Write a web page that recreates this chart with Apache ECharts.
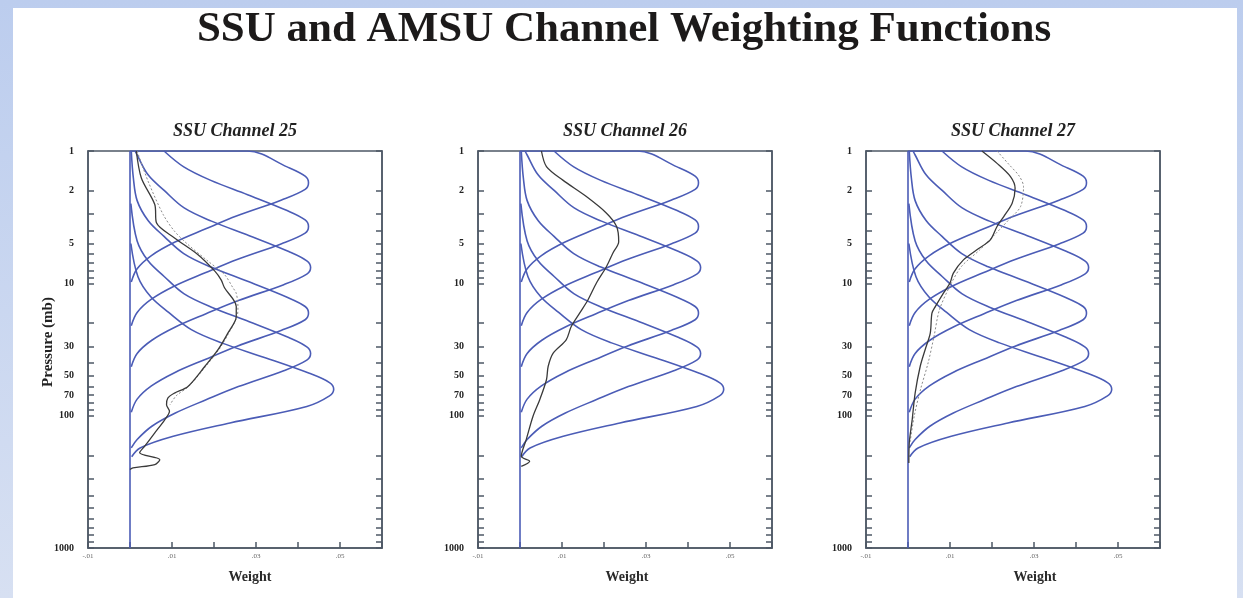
<!DOCTYPE html>
<html>
<head>
<meta charset="utf-8">
<script src="https://cdn.jsdelivr.net/npm/echarts@6/dist/echarts.min.js"></script>
<style>
  html, body { margin: 0; padding: 0; background: #ffffff; }
  #chart { width: 1243px; height: 598px; }
</style>
</head>
<body>
<div id="chart"></div>
<script>
// ---- text ----
const MAIN_TITLE = 'SSU and AMSU Channel Weighting Functions';
const PANEL_TITLES = ['SSU Channel 25', 'SSU Channel 26', 'SSU Channel 27'];
const Y_NAME = 'Pressure (mb)';
const X_NAME = 'Weight';

// ---- axes ----
const PRESSURE_TICKS = [1, 2, 3, 4, 5, 6, 7, 8, 9, 10, 20, 30, 40, 50, 60, 70, 80, 90,
  100, 200, 300, 400, 500, 600, 700, 800, 900, 1000];
const PRESSURE_LABELS = [1, 2, 5, 10, 30, 50, 70, 100, 1000];
const WEIGHT_LABELS = [-0.01, 0.01, 0.03, 0.05];

// ---- layer weighting functions, [weight, pressure (mb)] ----
const WF_1 = [[0, 1], [0.028, 1], [0.0374, 1.318], [0.0417, 1.549], [0.0425, 1.738], [0.0417, 1.95],
  [0.0361, 2.344], [0.0255, 3.09], [0.0179, 3.89], [0.0106, 4.9], [0.0051, 6.17],
  [0.0017, 7.76], [0.0003, 9.77]];
const WF_2 = [[0.0081, 1], [0.0128, 1.318], [0.0191, 1.66], [0.028, 2.138], [0.0374, 2.818],
  [0.0417, 3.311], [0.0425, 3.715], [0.0417, 4.169], [0.0361, 5.012], [0.0255, 6.607],
  [0.0179, 8.318], [0.0106, 10.47], [0.0051, 13.18], [0.0017, 16.6], [0.0003, 20.9]];
const WF_3 = [[0.0012, 1], [0.0017, 1.072], [0.0043, 1.514], [0.0082, 1.995], [0.0129, 2.692],
  [0.0194, 3.388], [0.0284, 4.365], [0.0378, 5.754], [0.0421, 6.761], [0.043, 7.586],
  [0.0421, 8.511], [0.0366, 10.23], [0.0258, 13.49], [0.0181, 16.98], [0.0108, 21.38],
  [0.0052, 26.92], [0.0017, 33.88], [0.0003, 42.66]];
const WF_4 = [[0.0003, 1], [0.0008, 1.6], [0.0017, 2.371], [0.0043, 3.35], [0.0081, 4.416],
  [0.0128, 5.957], [0.0191, 7.499], [0.028, 9.661], [0.0374, 12.74], [0.0417, 14.96],
  [0.0425, 16.79], [0.0417, 18.84], [0.0361, 22.65], [0.0255, 29.85], [0.0179, 37.58],
  [0.0106, 47.32], [0.0051, 59.57], [0.0017, 74.99], [0.0003, 94.41]];
const WF_5 = [[0.0002, 2.5], [0.0017, 4.786], [0.0043, 6.761], [0.0082, 8.913], [0.0129, 12.02],
  [0.0194, 15.14], [0.0284, 19.5], [0.0378, 25.7], [0.0421, 30.2], [0.043, 33.88],
  [0.0421, 38.02], [0.0366, 45.71], [0.0258, 60.26], [0.0181, 75.86], [0.0108, 95.5],
  [0.0052, 120.2], [0.0017, 151.4], [0.0003, 175]];
const WF_6 = [[0.0002, 5], [0.0019, 8.913], [0.0049, 12.59], [0.0092, 16.6], [0.0146, 22.39],
  [0.0218, 28.18], [0.032, 36.31], [0.0427, 47.86], [0.0475, 56.23], [0.0485, 63.1],
  [0.0475, 70.79], [0.0421, 85.11], [0.0238, 113.5], [0.0103, 143.2], [0.0024, 175.4],
  [0.0004, 204.2]];
const ZERO_LINE = [[0, 1], [0, 1000]];

// ---- channel weighting functions, [weight, pressure (mb)] ----
const CH25_SOLID = [[0.0015, 1], [0.0027, 1.6], [0.0059, 2.54], [0.0063, 3.49], [0.0106, 4.54],
  [0.0162, 6.07], [0.0202, 8.09], [0.0217, 9.42], [0.0225, 10.8], [0.0253, 14.96],
  [0.0253, 17.8], [0.0233, 23.8], [0.021, 31.6], [0.0178, 42.5], [0.0138, 60.1],
  [0.0106, 67.5], [0.009, 73.6], [0.0087, 82.6], [0.0094, 92.7], [0.0083, 107],
  [0.0059, 135], [0.0035, 170], [0.0023, 190.5], [0.0071, 215], [0.0059, 234],
  [0.0007, 248], [0, 255]];
const CH25_DOTTED = [[0.0017, 1], [0.0043, 1.69], [0.0079, 3.02], [0.0106, 4.04], [0.0138, 5.09],
  [0.0186, 6.81], [0.0225, 8.59], [0.0245, 10.8], [0.0253, 11.9], [0.0257, 15.0],
  [0.0255, 17.8], [0.0235, 23.8], [0.0212, 31.6], [0.018, 42.5], [0.014, 60],
  [0.011, 70.8], [0.0095, 83]];
const CH26_SOLID = [[0.0051, 1], [0.0063, 1.31], [0.0102, 1.66], [0.0158, 2.21], [0.0206, 2.95],
  [0.023, 3.72], [0.0235, 4.84], [0.0221, 5.92], [0.0206, 7.46], [0.0182, 9.95],
  [0.0162, 13.3], [0.0142, 16.8], [0.0122, 21.2], [0.011, 26.7], [0.0079, 33.7],
  [0.0067, 42.5], [0.0063, 53.5], [0.0047, 75.7], [0.0031, 101], [0.0015, 151],
  [0.0003, 203], [0.0023, 221], [0.0003, 242]];
const CH27_SOLID = [[0.0176, 1], [0.0212, 1.24], [0.0244, 1.56], [0.0255, 1.91], [0.0248, 2.48],
  [0.0228, 3.13], [0.0212, 3.72], [0.0196, 4.70], [0.0164, 5.58], [0.0132, 6.65],
  [0.0108, 8.37], [0.01, 9.95], [0.0084, 11.9], [0.0065, 15.0], [0.0057, 16.8],
  [0.0053, 23.8], [0.0041, 31.6], [0.0029, 42.5], [0.0017, 67.5], [0.001, 107],
  [0.0003, 161], [0.0002, 228]];
const CH27_DOTTED = [[0.0212, 1], [0.024, 1.26], [0.0265, 1.55], [0.0275, 1.86], [0.0268, 2.63],
  [0.024, 3.31], [0.021, 4.17], [0.017, 5.62], [0.0128, 7.41], [0.0103, 10],
  [0.0075, 15.8], [0.0062, 25.1], [0.0048, 39.8], [0.003, 63], [0.0015, 100],
  [0.0005, 158]];

const LAYERS = [WF_1, WF_2, WF_3, WF_4, WF_5, WF_6];
const CHANNELS = [
  { solid: CH25_SOLID, dotted: CH25_DOTTED },
  { solid: CH26_SOLID, dotted: null },
  { solid: CH27_SOLID, dotted: CH27_DOTTED }
];

// ---- styling ----
const SERIF = '"Liberation Serif", "Times New Roman", serif';
const FRAME = '#4e5866';
const BLUE = '#4b5cb6';
const PANEL_LEFT = [88, 478, 866];
const PANEL_TOP = 151;
const PANEL_W = 294;
const PANEL_H = 397;
const WEIGHT_TITLE_X = [250, 627, 1035];

const grids = [], xAxes = [], yAxes = [], series = [], graphics = [];

graphics.push({
  type: 'rect', shape: { x: 13, y: 8, width: 1224, height: 590 },
  style: { fill: '#ffffff' }, silent: true, z: -10
});
graphics.push({
  type: 'text', x: 624, y: 30, silent: true,
  style: { text: MAIN_TITLE, textAlign: 'center', textVerticalAlign: 'middle',
    font: 'bold 43px ' + SERIF, fill: '#1c1a1a' }
});
graphics.push({
  type: 'text', x: 48, y: 342, rotation: Math.PI / 2, silent: true,
  style: { text: Y_NAME, textAlign: 'center', textVerticalAlign: 'middle',
    font: 'bold 15px ' + SERIF, fill: '#222' }
});

PANEL_LEFT.forEach((left, i) => {
  grids.push({ left: left, top: PANEL_TOP, width: PANEL_W, height: PANEL_H,
    show: true, borderColor: FRAME, borderWidth: 1.5, backgroundColor: 'transparent' });

  xAxes.push({
    gridIndex: i, type: 'value', min: -0.01, max: 0.06, interval: 0.01,
    axisLine: { show: true, onZero: false, lineStyle: { color: FRAME, width: 1.5 } },
    axisTick: { show: true, inside: true, length: 6, lineStyle: { color: FRAME, width: 1.5 } },
    axisLabel: {
      customValues: WEIGHT_LABELS, margin: 5, fontFamily: SERIF, fontSize: 7, color: '#666',
      formatter: v => (v < 0 ? '-' : '') + '.' + String(Math.round(Math.abs(v) * 100)).padStart(2, '0')
    },
    splitLine: { show: false }
  });

  const yBase = {
    gridIndex: i, type: 'log', logBase: 10, min: 1, max: 1000, inverse: true,
    axisLine: { show: true, onZero: false, lineStyle: { color: FRAME, width: 1.5 } },
    axisTick: { show: true, inside: true, length: 6, customValues: PRESSURE_TICKS,
      lineStyle: { color: FRAME, width: 1.5 } },
    splitLine: { show: false }
  };
  yAxes.push(Object.assign({}, yBase, {
    position: 'left',
    axisLabel: { customValues: PRESSURE_LABELS, margin: 14, fontFamily: SERIF,
      fontWeight: 'bold', fontSize: 10, color: '#222', formatter: v => String(v) }
  }));
  yAxes.push(Object.assign({}, yBase, {
    position: 'right', axisLabel: { show: false }
  }));

  const xi = i, yi = 2 * i;
  series.push({
    type: 'line', xAxisIndex: xi, yAxisIndex: yi, data: ZERO_LINE, showSymbol: false,
    silent: true, lineStyle: { color: BLUE, width: 1.6 }, z: 3
  });
  LAYERS.forEach(layer => {
    series.push({
      type: 'line', xAxisIndex: xi, yAxisIndex: yi, data: layer, showSymbol: false,
      smooth: 0.35, silent: true, lineStyle: { color: BLUE, width: 1.6 }, z: 3
    });
  });
  const ch = CHANNELS[i];
  if (ch.dotted) {
    series.push({
      type: 'line', xAxisIndex: xi, yAxisIndex: yi, data: ch.dotted, showSymbol: false,
      smooth: 0.3, silent: true, lineStyle: { color: '#8a8a8a', width: 1, type: [2, 2] }, z: 4
    });
  }
  series.push({
    type: 'line', xAxisIndex: xi, yAxisIndex: yi, data: ch.solid, showSymbol: false,
    smooth: 0.3, silent: true, lineStyle: { color: '#3a3a3a', width: 1.3 }, z: 5
  });

  graphics.push({
    type: 'text', x: left + PANEL_W / 2, y: 131, silent: true,
    style: { text: PANEL_TITLES[i], textAlign: 'center', textVerticalAlign: 'middle',
      font: 'italic bold 18px ' + SERIF, fill: '#222' }
  });
  graphics.push({
    type: 'text', x: WEIGHT_TITLE_X[i], y: 577, silent: true,
    style: { text: X_NAME, textAlign: 'center', textVerticalAlign: 'middle',
      font: 'bold 14px ' + SERIF, fill: '#2a2a2a' }
  });
});

const chart = echarts.init(document.getElementById('chart'), null, { renderer: 'canvas' });
chart.setOption({
  animation: false,
  backgroundColor: {
    type: 'linear', x: 0, y: 0, x2: 0, y2: 1,
    colorStops: [{ offset: 0, color: '#bccdee' }, { offset: 1, color: '#d7e0f2' }]
  },
  grid: grids,
  xAxis: xAxes,
  yAxis: yAxes,
  series: series,
  graphic: graphics
});
</script>
</body>
</html>
